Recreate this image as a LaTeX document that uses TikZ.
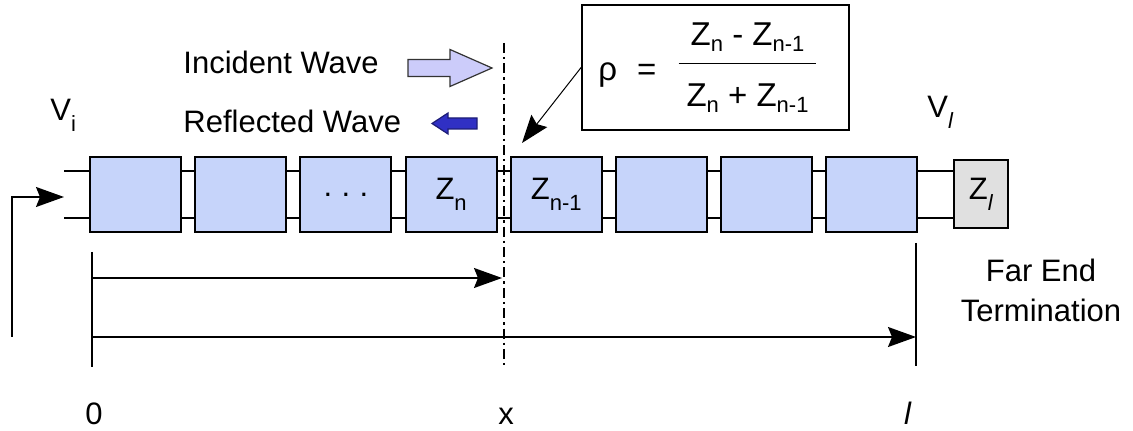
\documentclass[tikz,border=0pt]{standalone}
\usepackage{amsmath}
\usepackage{fontspec}
\setmainfont{Liberation Sans}
\usepackage{tikz}
\usetikzlibrary{calc}
\usetikzlibrary{arrows.meta}
\tikzset{>={Stealth[length=14pt,width=10pt,inset=2pt]}}
\usepackage{xcolor}
\definecolor{cellcol}{RGB}{198,212,250}
\definecolor{termcol}{RGB}{224,224,224}
\definecolor{inccol}{RGB}{204,204,250}
\definecolor{refcol}{RGB}{48,48,196}
\def\P{105.2}
\def\wire{11.75pt}
\newcommand{\lowidx}[2][0.35em]{\raisebox{-#1}{\fontsize{11}{11}\selectfont #2}}

\begin{document}
\begin{tikzpicture}[x=0.5pt,y=-0.5pt,font=\fontsize{15.5}{20}\selectfont,
	cell/.style={draw,line width=1pt,fill=cellcol,minimum width=45.5pt,minimum height=37.5pt,inner sep=0pt},
	lab/.style={inner sep=0pt},
	dim/.style={line width=0.8pt}]
	\useasboundingbox (0,0) rectangle (1133,431);
	
	% LINE SECTIONS
	\foreach \i/\lab in {1/{},2/{},3/{.\hspace{0.3em}.\hspace{0.3em}.},4/{Z\lowidx{n}},5/{Z\lowidx{n-1}},6/{},7/{},8/{}}
	\node[cell] (c\i) at ({135.5+\P*(\i-1)},194.5) {\lab};
	\node[cell,fill=termcol,minimum width=27pt,minimum height=34pt] (zl) at (981,194.5) {Z\lowidx{\textit{l}}};
	
	% WIRES
	\coordinate (inT) at (64,171);
	\coordinate (inB) at (64,218);
	\draw[dim] (inT) -- ([yshift=\wire]c1.west) (inB) -- ([yshift=-\wire]c1.west);
	\foreach \i in {1,...,7}{
		\pgfmathtruncatemacro\j{\i+1}
		\draw[dim] ([yshift=\wire]c\i.east) -- ([yshift=\wire]c\j.west)
		([yshift=-\wire]c\i.east) -- ([yshift=-\wire]c\j.west);
	}
	\draw[dim] ([yshift=\wire]c8.east) -- ([yshift=\wire]zl.west)
	([yshift=-\wire]c8.east) -- ([yshift=-\wire]zl.west);
	
	% SOURCE
	\coordinate (feed) at (12,337);
	\coordinate (feedIn) at (64,197);
	\draw[dim,->] (feed) |- (feedIn);
	\node[lab,anchor=base west] (vi) at (50,121) {V\lowidx{i}};
	\node[lab,anchor=base west] (vl) at (927,118) {V\lowidx{\textit{l}}};
	
	% DISTANCES
	\coordinate (o0) at (92,252);
	\coordinate (o1) at (92,367);
	\coordinate (l0) at (916,243);
	\coordinate (l1) at (916,366);
	\draw[dim] (o0) -- (o1) (l0) -- (l1);
	\coordinate (xA) at (92,278);
	\coordinate (xB) at (502,278);
	\coordinate (lA) at (92,337);
	\coordinate (lB) at (916,337);
	\draw[dim,->] (xA) -- (xB);
	\draw[dim,->] (lA) -- (lB);
	\node[lab,anchor=base] (n0) at (94,425) {0};
	\node[lab,anchor=base] (nx) at (506,425) {x};
	\node[lab,anchor=base] (nl) at (908,425) {\textit{l}};
	
	% CUT
	\coordinate (cutT) at (504,43);
	\coordinate (cutB) at (504,367);
	\draw[line width=1.4pt,dash pattern=on 5pt off 2pt on 1.2pt off 2pt] (cutT) -- (cutB);
	
	% WAVES
	\node[lab,anchor=base west] (inc) at (183,74) {Incident Wave};
	\node[lab,anchor=base west] (refl) at (183,133) {Reflected Wave};
	\filldraw[fill=inccol,draw=black!80,line width=0.6pt] (408,59.5) -- (450,59.5) -- (450,49.5)
	-- (492,68) -- (450,86.5) -- (450,76.5) -- (408,76.5) -- cycle;
	\filldraw[fill=refcol,draw=refcol!60!black,line width=0.6pt] (477,118) -- (448,118) -- (448,113)
	-- (432,123.5) -- (448,134) -- (448,129) -- (477,129) -- cycle;
	
	% REFLECTION COEFFICIENT
	\node[draw,line width=0.9pt,minimum width=133.5pt,minimum height=62.5pt,
	font=\fontsize{16.5}{20}\selectfont] (rho) at (715.5,67.5)
	{\raisebox{-4.5pt}{ρ\hspace{10pt}=}\hspace{10pt}$\dfrac{\hspace{6pt}\rule[-6.5pt]{0pt}{6.5pt}\text{Z\lowidx[3pt]{n} - Z\lowidx[3pt]{n-1}}\hspace{6pt}}
		{\rule{0pt}{19pt}\text{Z\lowidx[3pt]{n} + Z\lowidx[3pt]{n-1}}}$\kern7pt};
	\coordinate (rhoTip) at (522,143);
	\draw[line width=0.5pt,->] (rho.west) -- (rhoTip);
	
	\node[align=center] (far) at (1041,290) {Far End\\Termination};
\end{tikzpicture}
\end{document}
